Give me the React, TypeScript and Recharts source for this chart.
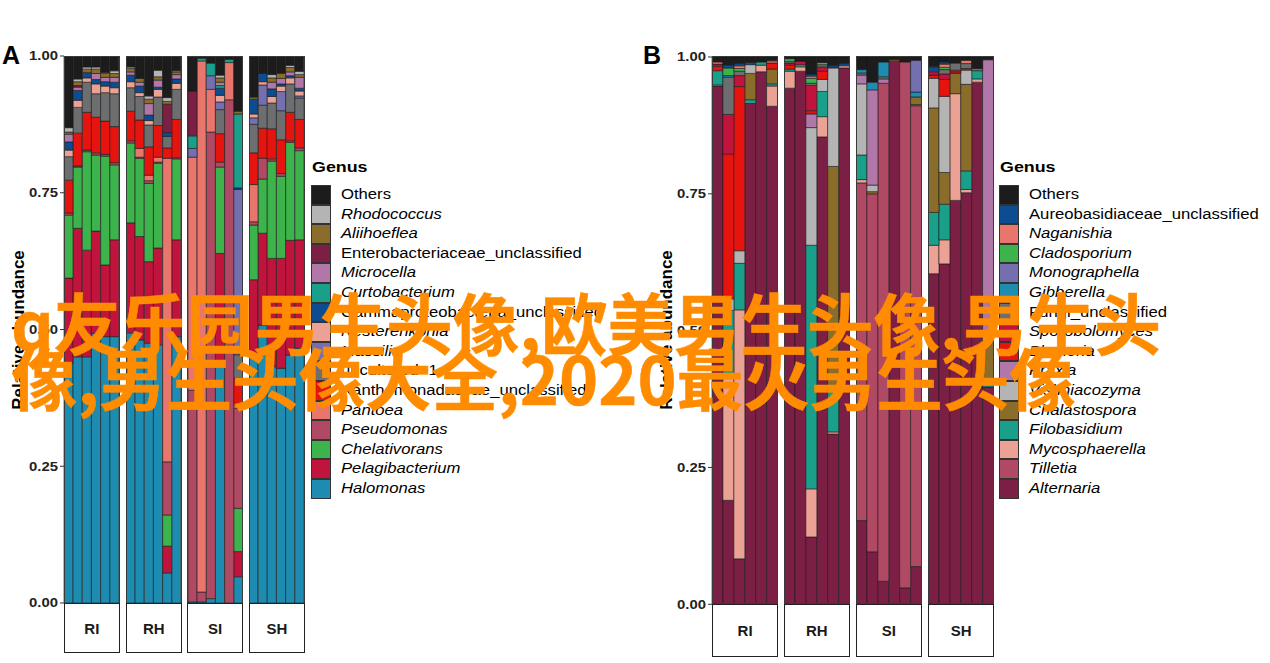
import React from 'react';
import { BarChart, Bar, XAxis, YAxis } from 'recharts';

const facetNames = ['RI', 'RH', 'SI', 'SH'];
const yTicks = [0, 0.25, 0.5, 0.75, 1];

// genera in stacking order, bottom of the bar first (the legend lists them the other way round)
const bacteriaGenera = [
  'Halomonas', 'Pelagibacterium', 'Chelativorans', 'Pseudomonas', 'Pantoea',
  'Xanthomonadaceae_unclassified', 'uncultured\u22121', 'Massilia', 'Nesterenkonia',
  'Gammaproteobacteria_unclassified', 'Curtobacterium', 'Microcella',
  'Enterobacteriaceae_unclassified', 'Aliihoeflea', 'Rhodococcus', 'Others',
];
const fungiGenera = [
  'Alternaria', 'Tilletia', 'Mycosphaerella', 'Filobasidium', 'Chalastospora',
  'Vishniacozyma', 'Praxia', 'Blumeria', 'Sporobolomyces', 'Fungi_unclassified',
  'Gibberella', 'Monographella', 'Cladosporium', 'Naganishia',
  'Aureobasidiaceae_unclassified', 'Others',
];
const bacteriaColors = [
  '#1e8cb0', '#c0143c', '#3cb44b', '#b04a64', '#e8766c', '#e5140f', '#6d6e70', '#7470b0',
  '#eba294', '#0e4c92', '#1aa08a', '#b077a8', '#7c1f44', '#8a6d2a', '#b4b4b4', '#1c1c1c',
];
const fungiColors = [
  '#7c1f44', '#b04a64', '#eba294', '#1aa08a', '#8a6d2a', '#b4b4b4', '#b077a8', '#e5140f',
  '#c0143c', '#6d6e70', '#1e8cb0', '#7470b0', '#3cb44b', '#e8766c', '#0e4c92', '#1c1c1c',
];

// relative abundance per sample, same order as the genera above
const bacteriaRI = [
  [0.439, 0.155, 0.115, 0.004, 0, 0.060, 0.043, 0, 0.012, 0.015, 0, 0.014, 0, 0.004, 0.008, 0.131],
  [0.450, 0.235, 0.112, 0.002, 0, 0.060, 0.047, 0, 0.013, 0.018, 0, 0.006, 0.003, 0.007, 0.005, 0.043],
  [0.450, 0.195, 0.180, 0.003, 0, 0.069, 0.055, 0, 0.008, 0.008, 0, 0.002, 0, 0.006, 0.004, 0.020],
  [0.493, 0.187, 0.139, 0.004, 0, 0.065, 0.043, 0, 0.018, 0.008, 0, 0.011, 0, 0.008, 0.004, 0.020],
  [0.487, 0.131, 0.199, 0.003, 0, 0.061, 0.052, 0, 0.012, 0.008, 0, 0.008, 0, 0.007, 0.002, 0.030],
  [0.487, 0.177, 0.137, 0.004, 0, 0.066, 0.060, 0, 0.011, 0.010, 0, 0.009, 0, 0.007, 0.005, 0.027],
];
const bacteriaRH = [
  [0.494, 0.201, 0.146, 0.004, 0, 0.054, 0.043, 0, 0.011, 0.012, 0, 0.006, 0, 0.006, 0.003, 0.020],
  [0.481, 0.189, 0.143, 0.002, 0.016, 0.052, 0.043, 0, 0.007, 0.012, 0, 0.007, 0, 0.007, 0, 0.041],
  [0.475, 0.149, 0.143, 0.005, 0.010, 0.052, 0.040, 0, 0.008, 0.010, 0, 0.021, 0, 0.008, 0.006, 0.073],
  [0.472, 0.177, 0.155, 0.002, 0.009, 0.058, 0.052, 0, 0.014, 0.004, 0, 0.013, 0, 0.006, 0.012, 0.026],
  [0.055, 0.049, 0.057, 0.097, 0.555, 0.019, 0.021, 0, 0, 0.007, 0, 0, 0.052, 0.005, 0.007, 0.076],
  [0.487, 0.177, 0.148, 0.002, 0, 0.070, 0.055, 0, 0.011, 0.008, 0, 0.008, 0, 0.005, 0.002, 0.027],
];
const bacteriaSI = [
  [0.002, 0, 0, 0.387, 0.426, 0, 0, 0.016, 0, 0, 0.023, 0, 0.082, 0, 0, 0.064],
  [0.002, 0, 0, 0.018, 0.971, 0, 0, 0, 0, 0, 0.005, 0, 0, 0, 0, 0.004],
  [0.008, 0, 0, 0.853, 0.078, 0, 0, 0.025, 0, 0, 0.023, 0, 0, 0, 0, 0.013],
  [0.435, 0.204, 0.158, 0.009, 0, 0.052, 0.044, 0.014, 0.012, 0.013, 0.005, 0.006, 0, 0.008, 0.005, 0.035],
  [0, 0, 0, 0.920, 0.068, 0, 0, 0, 0, 0, 0.006, 0, 0, 0, 0, 0.006],
  [0.048, 0.046, 0.079, 0.183, 0.006, 0.049, 0.043, 0.302, 0, 0.003, 0.135, 0, 0, 0.005, 0, 0.102],
];
const bacteriaSH = [
  [0.448, 0.143, 0.100, 0.006, 0.068, 0.058, 0.052, 0.012, 0.007, 0.027, 0, 0, 0, 0.004, 0, 0.075],
  [0.508, 0.168, 0.099, 0.038, 0, 0.055, 0.042, 0.037, 0.006, 0.015, 0, 0, 0, 0, 0, 0.032],
  [0.432, 0.198, 0.178, 0.004, 0, 0.055, 0.047, 0, 0.012, 0.014, 0, 0.012, 0, 0.008, 0.006, 0.035],
  [0.429, 0.201, 0.150, 0.005, 0, 0.062, 0.053, 0.035, 0.010, 0.004, 0, 0.010, 0, 0.009, 0.001, 0.031],
  [0.453, 0.210, 0.179, 0.003, 0, 0.052, 0.052, 0, 0.011, 0.004, 0, 0.007, 0, 0.008, 0.004, 0.017],
  [0.466, 0.198, 0.163, 0.005, 0, 0.052, 0.039, 0.004, 0.009, 0.005, 0, 0.020, 0, 0.005, 0.006, 0.028],
];

const fungiRI = [
  [0.947, 0, 0.002, 0.026, 0, 0, 0, 0.008, 0.004, 0, 0, 0, 0, 0.004, 0, 0.009],
  [0.190, 0, 0.225, 0.122, 0, 0.021, 0, 0.265, 0.072, 0.068, 0.003, 0, 0.014, 0, 0.005, 0.015],
  [0.083, 0, 0.455, 0.085, 0, 0.023, 0, 0.300, 0.020, 0.008, 0, 0, 0.005, 0.005, 0.004, 0.012],
  [0.915, 0, 0, 0.007, 0.048, 0.016, 0, 0, 0, 0, 0, 0, 0, 0, 0.004, 0.010],
  [0.973, 0, 0.012, 0.006, 0, 0, 0, 0, 0, 0, 0, 0, 0, 0, 0, 0.009],
  [0.910, 0, 0.037, 0.004, 0.027, 0, 0, 0.011, 0, 0, 0, 0, 0, 0.004, 0, 0.007],
];
const fungiRH = [
  [0.943, 0, 0.031, 0.004, 0, 0, 0, 0.007, 0.004, 0.003, 0, 0, 0.005, 0, 0, 0.003],
  [0.974, 0, 0.008, 0.004, 0, 0, 0, 0, 0.006, 0, 0, 0, 0, 0, 0, 0.008],
  [0.123, 0, 0.088, 0.445, 0, 0.215, 0.025, 0.006, 0.046, 0.004, 0, 0, 0.009, 0.004, 0.004, 0.031],
  [0.854, 0, 0.037, 0.046, 0, 0.022, 0, 0.015, 0.008, 0.004, 0, 0, 0.004, 0, 0, 0.010],
  [0.311, 0, 0.004, 0.082, 0.403, 0.180, 0, 0, 0, 0, 0, 0, 0, 0, 0.004, 0.016],
  [0.980, 0, 0.004, 0, 0, 0, 0, 0, 0, 0, 0, 0, 0, 0, 0.004, 0.012],
];
const fungiSI = [
  [0.153, 0.617, 0.006, 0.045, 0, 0.130, 0.016, 0, 0, 0.004, 0.006, 0, 0, 0, 0, 0.023],
  [0.096, 0.654, 0, 0, 0.004, 0.012, 0.174, 0, 0, 0, 0.014, 0, 0, 0, 0, 0.046],
  [0.042, 0.910, 0, 0, 0, 0, 0.008, 0, 0, 0.004, 0.027, 0, 0, 0, 0, 0.009],
  [0.992, 0, 0, 0, 0.003, 0, 0, 0, 0, 0, 0, 0, 0, 0, 0, 0.005],
  [0.030, 0.961, 0, 0, 0, 0, 0, 0, 0, 0, 0, 0, 0, 0, 0, 0.009],
  [0.069, 0.842, 0, 0.002, 0.014, 0, 0, 0, 0, 0, 0.009, 0.058, 0, 0, 0, 0.006],
];
const fungiSH = [
  [0.604, 0, 0.052, 0.060, 0.191, 0.054, 0, 0.006, 0.006, 0, 0, 0, 0, 0, 0.009, 0.018],
  [0.622, 0, 0.044, 0.065, 0.058, 0.139, 0, 0.031, 0.010, 0.008, 0, 0, 0.004, 0.006, 0.004, 0.009],
  [0.738, 0, 0.195, 0, 0.037, 0, 0, 0.003, 0.003, 0.013, 0, 0, 0, 0, 0, 0.011],
  [0.752, 0, 0.006, 0.034, 0.158, 0.026, 0, 0.003, 0, 0.009, 0, 0, 0, 0.006, 0, 0.006],
  [0.954, 0, 0.006, 0.015, 0, 0, 0, 0, 0, 0.004, 0, 0, 0, 0, 0, 0.021],
  [0.397, 0, 0, 0.012, 0.073, 0.007, 0.506, 0, 0, 0, 0, 0, 0, 0, 0, 0.005],
];

const overlayLines = ['q友乐园男生头像,欧美男生头像,男生头', '像,男生头像大全,2020最火男生头像'];

const FONT = '"Liberation Sans", Arial, Helvetica, sans-serif';
const STRETCH = 1.19; // the source picture is a bit wider than it is tall
const PAD = 8;

const isItalic = (g: string) => g !== 'Others' && !g.includes('_') && !g.startsWith('uncultured');

const toRows = (values: number[][], genera: string[]) =>
  values.map((v, i) => {
    const row: Record<string, number | string> = { sample: `S${i + 1}` };
    genera.forEach((g, j) => {
      row[g] = v[j];
    });
    return row;
  });

const AxisTick = (props: any) => {
  const { x, y, payload } = props;
  if (!payload) return <g />;
  return (
    <g transform={`translate(${x},${y})`}>
      <text
        transform={`scale(${STRETCH},1)`}
        textAnchor="end"
        dy={4.3}
        fontSize={12.5}
        fontWeight="bold"
        fontFamily={FONT}
        fill="#222"
      >
        {Number(payload.value).toFixed(2)}
      </text>
    </g>
  );
};

interface FacetProps {
  values: number[][];
  genera: string[];
  colors: string[];
  x: number;
  top: number;
  width: number;
  height: number;
  axis: boolean;
}

const Facet = ({ values, genera, colors, x, top, width, height, axis }: FacetProps) => {
  const axisW = axis ? 44 : 0;
  return (
    <div style={{ position: 'absolute', left: x - axisW, top: top - PAD }}>
      <BarChart
        width={width + axisW}
        height={height + 2 * PAD}
        data={toRows(values, genera)}
        margin={{ top: PAD, right: 0, bottom: PAD, left: 0 }}
        barCategoryGap={0}
        barGap={0}
      >
        <XAxis dataKey="sample" hide />
        <YAxis
          hide={!axis}
          width={axisW}
          domain={[0, 1]}
          ticks={yTicks}
          allowDataOverflow
          interval={0}
          axisLine={false}
          tickLine={{ stroke: '#333' }}
          tickSize={4}
          tickMargin={2}
          tick={AxisTick}
        />
        {genera.map((g, j) => (
          <Bar
            key={g}
            dataKey={g}
            stackId="s"
            fill={colors[j]}
            stroke="#1a1a1a"
            strokeWidth={0.6}
            isAnimationActive={false}
          />
        ))}
      </BarChart>
    </div>
  );
};

interface PanelProps {
  letter: string;
  letterX: number;
  titleX: number;
  genera: string[];
  colors: string[];
  facets: number[][][];
  facetXs: number[];
  facetW: number;
  top: number;
  plotH: number;
  stripH: number;
  legendX: number;
}

const Panel = (p: PanelProps) => {
  const legendOrder = p.genera.map((g, j) => ({ g, c: p.colors[j] })).reverse();
  return (
    <>
      <div
        style={{
          position: 'absolute', left: p.letterX, top: 43, fontSize: 25, lineHeight: '25px',
          fontWeight: 'bold', fontFamily: FONT, color: '#000',
        }}
      >
        {p.letter}
      </div>
      <div
        style={{
          position: 'absolute', left: p.titleX - 100, top: 330 - 10, width: 200, height: 20,
          lineHeight: '20px', textAlign: 'center', transform: 'rotate(-90deg)', fontSize: 17,
          fontWeight: 'bold', fontFamily: FONT, color: '#000',
        }}
      >
        Relative abundance
      </div>
      {p.facets.map((values, k) => (
        <Facet
          key={facetNames[k]}
          values={values}
          genera={p.genera}
          colors={p.colors}
          x={p.facetXs[k]}
          top={p.top}
          width={p.facetW}
          height={p.plotH}
          axis={k === 0}
        />
      ))}
      {p.facetXs.map((fx, k) => (
        <React.Fragment key={`frame-${k}`}>
          <div
            style={{
              position: 'absolute', left: fx - 0.5, top: p.top - 0.5, width: p.facetW + 1,
              height: p.plotH + 1, border: '1px solid #3a3a3a', boxSizing: 'border-box',
              pointerEvents: 'none',
            }}
          />
          <div
            style={{
              position: 'absolute', left: fx - 0.5, top: p.top + p.plotH, width: p.facetW + 1,
              height: p.stripH, border: '1.5px solid #222', boxSizing: 'border-box',
              background: '#fff', display: 'flex', alignItems: 'center', justifyContent: 'center',
              fontSize: 15, fontWeight: 'bold', fontFamily: FONT, color: '#1a1a1a',
            }}
          >
            {facetNames[k]}
          </div>
        </React.Fragment>
      ))}
      <div
        style={{
          position: 'absolute', left: p.legendX + 1, top: 158, fontSize: 15, lineHeight: '18px',
          fontWeight: 'bold', fontFamily: FONT, color: '#000', transform: `scaleX(${STRETCH})`,
          transformOrigin: 'left center',
        }}
      >
        Genus
      </div>
      {legendOrder.map(({ g, c }, i) => (
        <React.Fragment key={`leg-${g}`}>
          <div
            style={{
              position: 'absolute', left: p.legendX, top: 185 + i * 19.6, width: 20, height: 19.6,
              background: c, border: '1px solid #333', boxSizing: 'border-box',
            }}
          />
          <div
            style={{
              position: 'absolute', left: p.legendX + 30, top: 185 + i * 19.6, height: 19.6,
              lineHeight: '19.6px', fontSize: 14, fontFamily: FONT, color: '#000',
              fontStyle: isItalic(g) ? 'italic' : 'normal', whiteSpace: 'nowrap',
              transform: `scaleX(${STRETCH})`, transformOrigin: 'left center',
            }}
          >
            {g}
          </div>
        </React.Fragment>
      ))}
    </>
  );
};

export default function App() {
  return (
    <div
      style={{
        position: 'absolute', left: 0, top: 0, width: 1270, height: 663, background: '#fff',
        overflow: 'hidden',
      }}
    >
      <Panel
        letter="A"
        letterX={2}
        titleX={19}
        genera={bacteriaGenera}
        colors={bacteriaColors}
        facets={[bacteriaRI, bacteriaRH, bacteriaSI, bacteriaSH]}
        facetXs={[64.3, 126.3, 187.7, 249.3]}
        facetW={55}
        top={56}
        plotH={547}
        stripH={50}
        legendX={311}
      />
      <Panel
        letter="B"
        letterX={643}
        titleX={667}
        genera={fungiGenera}
        colors={fungiColors}
        facets={[fungiRI, fungiRH, fungiSI, fungiSH]}
        facetXs={[712.3, 784, 856, 928.3]}
        facetW={65.5}
        top={56.7}
        plotH={547.3}
        stripH={52.5}
        legendX={999}
      />
      {overlayLines.map((line, i) => (
        <div
          key={line}
          style={{
            position: 'absolute', left: 11, top: 288 + i * 55, fontSize: 66.5, lineHeight: '66px',
            fontFamily: '"Noto Sans CJK SC", "Noto Sans", sans-serif', fontWeight: 'bold',
            color: '#ff8c00', whiteSpace: 'nowrap', WebkitTextStroke: '0.5px #ff8c00',
          }}
        >
          {line}
        </div>
      ))}
    </div>
  );
}
